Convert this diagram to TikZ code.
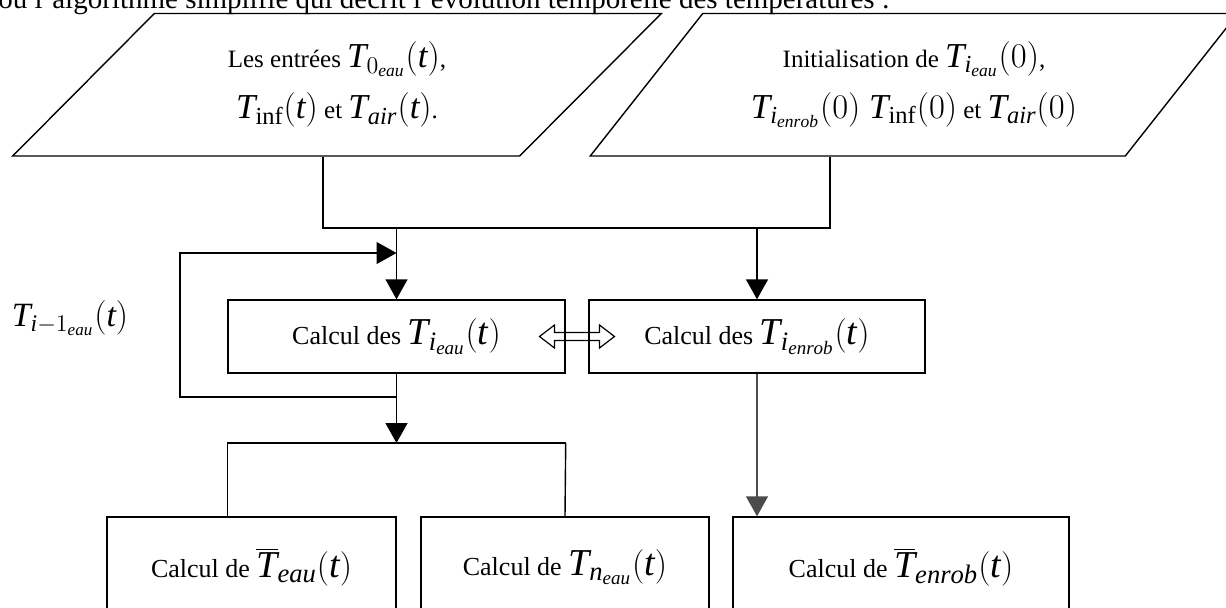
\documentclass[tikz,border=0pt]{standalone}
\usepackage{fontspec}
\setmainfont{Liberation Serif}[NFSSFamily=libser]
\DeclareSymbolFont{operators}{TU}{libser}{m}{n}
\DeclareSymbolFont{letters}{TU}{libser}{m}{it}
\usetikzlibrary{arrows.meta, positioning, shapes.geometric, calc}

\newcommand{\eqIn}[1]{{\fontsize{17.5}{19}\selectfont$#1$}}
\newcommand{\eqBox}[1]{{\fontsize{19}{21}\selectfont$#1$}}

\begin{document}
\begin{tikzpicture}[
    x=0.5pt, y=-0.5pt,
    >={Triangle[length=10pt, width=11pt]},
    every node/.style={align=center, text=black},
    line/.style={draw=black, line width=0.7pt},
    arr/.style={->, draw=black, line width=0.7pt},
    arrGray/.style={->, draw=black!70, line width=0.7pt},
    inBox/.style={
      trapezium, trapezium left angle=47.7, trapezium right angle=132.3,
      trapezium stretches=true, draw=black, line width=0.7pt,
      minimum width=325pt, minimum height=71.25pt,
      font=\fontsize{12.5}{14}\selectfont
    },
    calcBox/.style={
      rectangle, draw=black, fill=white, line width=0.7pt,
      font=\fontsize{13}{15}\selectfont
    },
    intro/.style={anchor=base west, inner sep=0pt, font=\fontsize{14.5}{17}\selectfont}
  ]
    \useasboundingbox (0,0) rectangle (1226,607);
    \clip (0,0) rectangle (1226,607);

    \node[intro] (introLine) at (-2,8.5)
      {ou l'algorithme simplifié qui décrit l'évolution temporelle des températures :};

    % entrees et initialisation
    \node[inBox] (inputs) at (337,84.75)
      {Les entrées \eqIn{T_{0_{eau}}(t)},\\[7pt]
       \eqIn{T_{\mathrm{inf}}(t)} et \eqIn{T_{air}(t)}.};
    \node[inBox] (init) at (914,84.75)
      {Initialisation de \eqIn{T_{i_{eau}}(0)},\\[7pt]
       \eqIn{T_{i_{enrob}}(0)\ T_{\mathrm{inf}}(0)} et \eqIn{T_{air}(0)}};

    % calculs
    \node[calcBox, minimum width=168.5pt, minimum height=36.5pt] (calcEau) at (396.5,336.5)
      {Calcul des \eqBox{T_{i_{eau}}(t)}};
    \node[calcBox, minimum width=168pt, minimum height=36.5pt] (calcEnrob) at (757,336.5)
      {Calcul des \eqBox{T_{i_{enrob}}(t)}};
    \node[font=\fontsize{17}{19}\selectfont] (prevEau) at (70,318) {$T_{i-1_{eau}}(t)$};

    \node[calcBox, minimum width=144.5pt, minimum height=50pt] (meanEau) at (251.5,567)
      {Calcul de \eqBox{\overline{T}_{eau}(t)}};
    \node[calcBox, minimum width=144pt, minimum height=50pt] (lastEau) at (565,567)
      {Calcul de \eqBox{T_{n_{eau}}(t)}};
    \node[calcBox, minimum width=168pt, minimum height=50pt] (meanEnrob) at (901,567)
      {Calcul de \eqBox{\overline{T}_{enrob}(t)}};

    \coordinate (mergeL) at (323,228);
    \coordinate (mergeR) at (830,228);
    \coordinate (loopTop) at (180,253);
    \coordinate (loopBot) at (180,397);
    \coordinate (split) at (396.5,443);
    \coordinate (swap) at ($(calcEau.east)!0.5!(calcEnrob.west)$);

    \draw[line] (inputs.south -| mergeL) -- (mergeL) -- (mergeR) -- (init.south -| mergeR);
    \draw[arr] (calcEau.north |- mergeL) -- (calcEau.north);
    \draw[arr] (calcEnrob.north |- mergeR) -- (calcEnrob.north);

    \draw[arr] (calcEau.south |- loopBot) -- (loopBot) -- (loopTop) -- (loopTop -| calcEau.north);
    \draw[arr] (calcEau.south) -- (split);
    \draw[line] (split -| calcEau.west) -- (split -| calcEau.east);
    \draw[line] (split -| calcEau.west) -- (meanEau.north -| calcEau.west);
    \draw[line] (split -| calcEau.east) -- (lastEau.north);
    \draw[arrGray] (calcEnrob.south) -- (calcEnrob.south |- meanEnrob.north);

    \draw[line, line width=0.6pt] ($(swap)+(-37.5,0)$) -- ++(15,-11.5) -- ++(0,7.5) -- ++(45,0)
      -- ++(0,-7.5) -- ++(15,11.5) -- ++(-15,11.5) -- ++(0,-7.5) -- ++(-45,0) -- ++(0,7.5) -- cycle;
\end{tikzpicture}
\end{document}
